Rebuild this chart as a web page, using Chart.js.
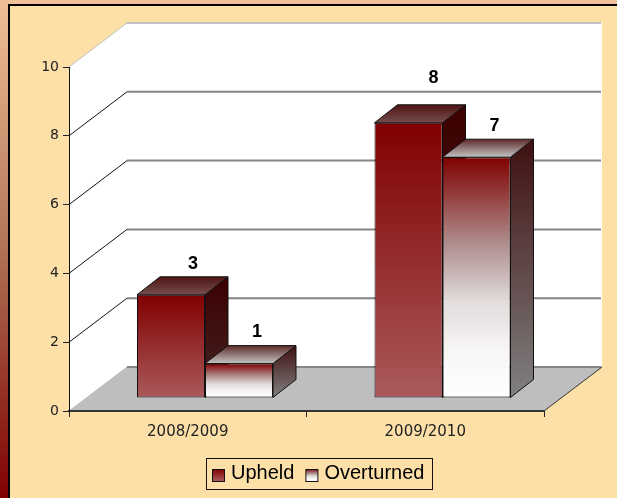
<!DOCTYPE html>
<html><head><meta charset="utf-8">
<style>
html,body{margin:0;padding:0;width:617px;height:498px;overflow:hidden;background:linear-gradient(180deg,#f0c098 0%,#b07355 50%,#800000 100%)}
#panel{position:absolute;left:8px;top:4px;width:609px;height:494px;box-sizing:border-box;background:#fce0a8;border-left:2px solid #000;border-top:2px solid #000}
#c{position:absolute;left:0;top:0}
</style>
<script src="https://cdn.jsdelivr.net/npm/chart.js@4"></script>
</head><body>
<div id="panel"></div>
<canvas id="c" width="617" height="498"></canvas>
<script>
const categories = ['2008/2009', '2009/2010'];
const upheld = [3, 8];
const overturned = [1, 7];
const yTicks = { min: 0, max: 10, stepSize: 2 };

// 3D look
const wallDepth = { x: 58, y: -44 };
const barDepth = { x: 23, y: -18 };
const barShift = { x: 17.25, y: -13 };
const labelNudge = [[-1, 1], [2, -13], [-5, 0], [-5, 1]]; // pixel nudges only
const styles = [
  { front: [[0, '#800000'], [1, '#aa5a5c']],
    side: ['#3c0000', '#452525'], top: ['#4f1515', '#754d4d'] },
  { front: [[0, '#800000'], [.35, '#ad8a8a'], [.6, '#e2dcdc'], [.8, '#f8f5f5'], [1, '#ffffff']],
    side: ['#401010', '#808080'], top: ['#5f2a2a', '#c4c4c4'] }
];

function vGrad(ctx, y0, y1, stops) {
  const g = ctx.createLinearGradient(0, y0, 0, y1);
  stops.forEach(s => g.addColorStop(s[0], s[1]));
  return g;
}
function pair(a) { return [[0, a[0]], [1, a[1]]]; }
function frontFill(i) {
  return c => {
    if (c.type !== 'data' || !c.parsed) return styles[i].front[0][1];
    const y = c.chart.scales.y;
    return vGrad(c.chart.ctx, y.getPixelForValue(c.parsed.y), y.getPixelForValue(0), styles[i].front);
  };
}
function poly(ctx, pts, fill, stroke) {
  ctx.beginPath();
  pts.forEach((p, i) => i ? ctx.lineTo(p[0], p[1]) : ctx.moveTo(p[0], p[1]));
  ctx.closePath();
  if (fill) { ctx.fillStyle = fill; ctx.fill(); }
  if (stroke) { ctx.strokeStyle = stroke; ctx.lineWidth = 1; ctx.stroke(); }
}
function seg(ctx, x0, y0, x1, y1, color, w) {
  ctx.beginPath(); ctx.moveTo(x0, y0); ctx.lineTo(x1, y1);
  ctx.strokeStyle = color; ctx.lineWidth = w; ctx.stroke();
}

const scene = {
  id: 'scene',
  afterLayout(chart) {
    const l = chart.legend;
    l.left = 201; l.right = 600; l.top = 452.5; l.bottom = 495;
    l.adjustHitBoxes();
  },
  beforeDraw(chart) {
    const { ctx, chartArea: a, scales: { y } } = chart;
    const dx = wallDepth.x, dy = wallDepth.y;
    ctx.save();
    const y0 = y.getPixelForValue(0), yT = y.getPixelForValue(yTicks.max);
    poly(ctx, [[a.left, yT], [a.left + dx, yT + dy], [a.left + dx, y0 + dy], [a.left, y0]], '#ffffff');
    ctx.fillStyle = '#ffffff';
    ctx.fillRect(a.left + dx, yT + dy, a.right - a.left, y0 - yT);
    poly(ctx, [[a.left, y0], [a.left + dx, y0 + dy], [a.right + dx, y0 + dy], [a.right, y0]], '#bebebe');
    y.ticks.forEach(t => {
      const p = y.getPixelForValue(t.value);
      const edge = t.value === yTicks.max || t.value === yTicks.min;
      seg(ctx, a.left, p, a.left + dx, p + dy, edge ? '#c0c0c0' : '#111111', 1);
      seg(ctx, a.left + dx, p + dy, a.right + dx - 1, p + dy, t.value === yTicks.max ? '#c0c0c0' : '#858585', 2);
    });
    seg(ctx, a.right, y0, a.right + dx, y0 + dy, '#333333', 1);
    ctx.restore();
  },
  beforeDatasetsDraw(chart) {
    const { ctx } = chart;
    ctx.save();
    ctx.translate(barShift.x, barShift.y);
    const dx = barDepth.x, dy = barDepth.y;
    chart.data.datasets.forEach((d, i) => {
      chart.getDatasetMeta(i).data.forEach(b => {
        const l = b.x - b.width / 2, r = b.x + b.width / 2, t = b.y, base = b.base;
        poly(ctx, [[r, t], [r + dx, t + dy], [r + dx, base + dy], [r, base]],
          vGrad(ctx, t + dy, base, pair(styles[i].side)), '#111111');
        poly(ctx, [[l, t], [l + dx, t + dy], [r + dx, t + dy], [r, t]],
          vGrad(ctx, t + dy, t, pair(styles[i].top)), '#111111');
      });
    });
  },
  afterDatasetsDraw(chart) {
    const { ctx } = chart;
    ctx.font = 'bold 18px "Liberation Sans"';
    ctx.fillStyle = '#000000';
    ctx.textAlign = 'center';
    ctx.textBaseline = 'middle';
    chart.data.datasets.forEach((d, i) => {
      chart.getDatasetMeta(i).data.forEach((b, j) => {
        const n = labelNudge[i * 2 + j];
        ctx.fillText(String(d.data[j]), b.x + barDepth.x + n[0], b.y + barDepth.y - 14 + n[1]);
      });
    });
    ctx.restore();
  },
  afterDraw(chart) {
    const { ctx, legend } = chart;
    ctx.save();
    ctx.strokeStyle = '#111111';
    ctx.lineWidth = 1;
    ctx.strokeRect(206.5, 458.5, 226, 31);
    legend.legendHitBoxes.forEach((h, i) => {
      const x = h.left, y = 469;
      ctx.fillStyle = vGrad(ctx, y, y + 12, styles[i].front);
      ctx.fillRect(x + .5, y + .5, 12, 12);
      ctx.strokeRect(x + .5, y + .5, 12, 12);
    });
    ctx.restore();
  }
};

new Chart(document.getElementById('c'), {
  type: 'bar',
  data: {
    labels: categories,
    datasets: [
      { label: 'Upheld', data: upheld, backgroundColor: frontFill(0), borderColor: '#111111', borderWidth: 1, borderSkipped: false, clip: false },
      { label: 'Overturned', data: overturned, backgroundColor: frontFill(1), borderColor: '#111111', borderWidth: 1, borderSkipped: false, clip: false }
    ]
  },
  options: {
    responsive: false,
    animation: false,
    layout: { padding: { top: 67, right: 73, left: 0, bottom: 0 } },
    categoryPercentage: 0.5726,
    barPercentage: 1,
    scales: {
      x: {
        afterFit(s) { s.height = 46; },
        grid: { drawOnChartArea: false, drawTicks: true, tickLength: 6, color: '#222222' },
        border: { display: true, color: '#333333', width: 2 },
        ticks: { padding: 6, color: '#222222', font: { family: '"DejaVu Sans"', size: 15 }, maxRotation: 0 }
      },
      y: {
        min: yTicks.min, max: yTicks.max,
        afterFit(s) { s.width = 69; },
        grid: { drawOnChartArea: false, drawTicks: true, tickLength: 6, color: '#222222' },
        border: { display: true, color: '#111111', width: 1 },
        ticks: { stepSize: yTicks.stepSize, padding: 4, color: '#222222', font: { family: '"DejaVu Sans"', size: 14 } }
      }
    },
    plugins: {
      tooltip: { enabled: false },
      legend: {
        position: 'bottom',
        align: 'start',
        labels: {
          boxWidth: 9, boxHeight: 9, padding: 11, color: '#000000',
          font: { family: '"Liberation Sans"', size: 20 },
          generateLabels: c => c.data.datasets.map((d, i) => ({
            text: d.label, fillStyle: 'rgba(0,0,0,0)', strokeStyle: 'rgba(0,0,0,0)', lineWidth: 0, datasetIndex: i, hidden: false
          }))
        }
      }
    }
  },
  plugins: [scene]
});
</script>
</body></html>
